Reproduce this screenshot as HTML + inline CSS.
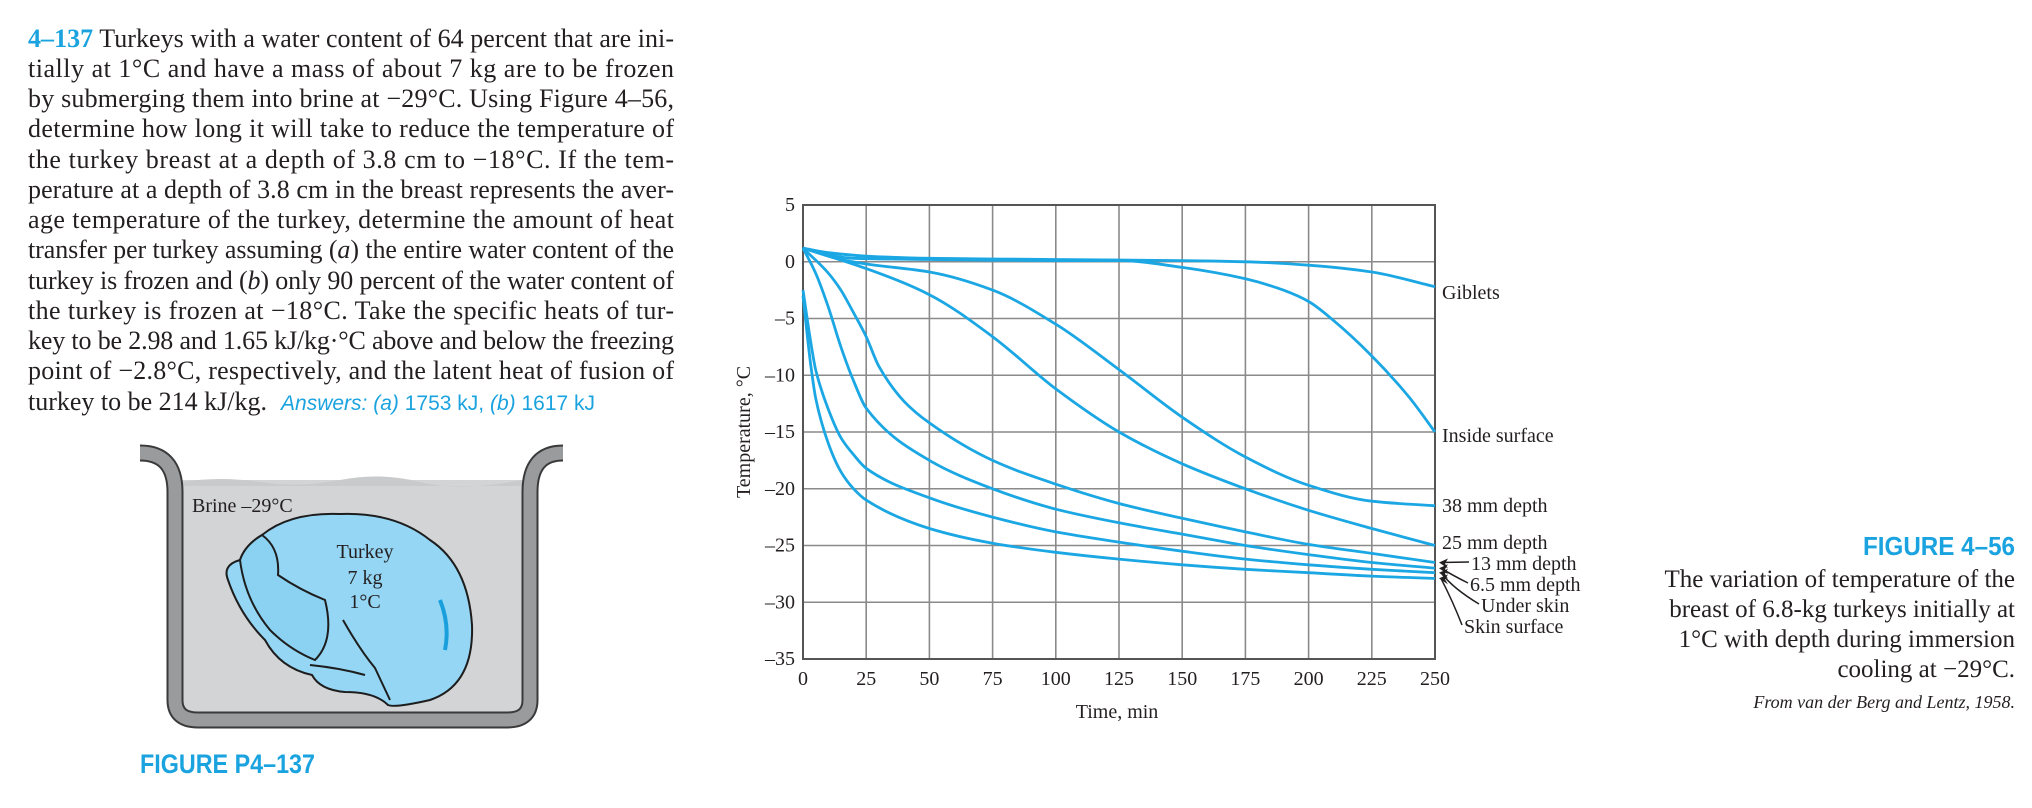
<!DOCTYPE html>
<html><head><meta charset="utf-8"><style>
html,body{margin:0;padding:0;background:#fff;}
svg{display:block;}
</style></head><body>
<svg id="page" width="2032" height="808" viewBox="0 0 2032 808" xmlns="http://www.w3.org/2000/svg">
<g font-family="Liberation Serif, serif" font-size="26" fill="#231f20">
<text x="28" y="47" textLength="646" lengthAdjust="spacing"><tspan fill="#1aa3df" font-weight="bold">4–137</tspan>  Turkeys with a water content of 64 percent that are ini-</text>
<text x="28" y="77" textLength="646" lengthAdjust="spacing">tially at 1°C and have a mass of about 7 kg are to be frozen</text>
<text x="28" y="107" textLength="646" lengthAdjust="spacing">by submerging them into brine at −29°C. Using Figure 4–56,</text>
<text x="28" y="137" textLength="646" lengthAdjust="spacing">determine how long it will take to reduce the temperature of</text>
<text x="28" y="168" textLength="646" lengthAdjust="spacing">the turkey breast at a depth of 3.8 cm to −18°C. If the tem-</text>
<text x="28" y="198" textLength="646" lengthAdjust="spacing">perature at a depth of 3.8 cm in the breast represents the aver-</text>
<text x="28" y="228" textLength="646" lengthAdjust="spacing">age temperature of the turkey, determine the amount of heat</text>
<text x="28" y="258" textLength="646" lengthAdjust="spacing">transfer per turkey assuming (<tspan font-style="italic">a</tspan>) the entire water content of the</text>
<text x="28" y="289" textLength="646" lengthAdjust="spacing">turkey is frozen and (<tspan font-style="italic">b</tspan>) only 90 percent of the water content of</text>
<text x="28" y="319" textLength="646" lengthAdjust="spacing">the turkey is frozen at −18°C. Take the specific heats of tur-</text>
<text x="28" y="349" textLength="646" lengthAdjust="spacing">key to be 2.98 and 1.65 kJ/kg·°C above and below the freezing</text>
<text x="28" y="379" textLength="646" lengthAdjust="spacing">point of −2.8°C, respectively, and the latent heat of fusion of</text>
<text x="28" y="410">turkey to be 214 kJ/kg.<tspan dx="14" font-family="Liberation Sans, sans-serif" font-size="21" fill="#1aa3df"><tspan font-style="italic">Answers: (a)</tspan> 1753 kJ, <tspan font-style="italic">(b)</tspan> 1617 kJ</tspan></text>
</g>

<g>
<rect x="182" y="480" width="340" height="233" fill="#d3d4d6"/>
<path d="M182,482 Q220,476 260,482 T340,480 T420,482 T522,480 L522,486 L182,486Z" fill="#c9cacc"/>
<path d="M140,453 Q175,453 175,492 L175,700 Q175,720 198,720 L507,720 Q530,720 530,700 L530,492 Q530,453 563,453" fill="none" stroke="#3a3a3a" stroke-width="17"/>
<path d="M140,453 Q175,453 175,492 L175,700 Q175,720 198,720 L507,720 Q530,720 530,700 L530,492 Q530,453 563,453" fill="none" stroke="#9a9b9d" stroke-width="13"/>
<text x="192" y="512" font-family="Liberation Serif, serif" font-size="20" fill="#231f20">Brine –29°C</text>
<path d="M262,535 Q290,512 340,514 Q395,512 430,540 Q468,565 472,625 Q474,685 430,700 Q395,708 388,705 Q375,692 345,692 Q320,690 312,675 Q280,668 265,640 Q240,615 228,580 Q222,565 240,560 Q245,545 262,535Z" fill="#94d6f4" stroke="#1d1d1d" stroke-width="2"/>
<path d="M262,535 Q280,548 278,575 Q300,590 325,600 Q335,640 315,660 Q290,650 270,630 Q245,600 240,560 Q245,545 262,535Z" fill="#8ad1f2" stroke="#1d1d1d" stroke-width="2"/>
<path d="M343,620 Q360,650 375,668 L390,700 M310,665 Q340,668 365,675" fill="none" stroke="#1d1d1d" stroke-width="2"/>
<path d="M440,600 Q450,625 445,650" fill="none" stroke="#19a0dc" stroke-width="4"/>
<g font-family="Liberation Serif, serif" font-size="20" fill="#231f20" text-anchor="middle">
<text x="365" y="558">Turkey</text>
<text x="365" y="584">7 kg</text>
<text x="365" y="608">1°C</text>
</g>
<text x="140" y="773" textLength="175" lengthAdjust="spacingAndGlyphs" font-family="Liberation Sans, sans-serif" font-weight="bold" font-size="27" fill="#1aa3df">FIGURE P4–137</text>
</g>

<g id="chart"></g>

<g font-family="Liberation Serif, serif" fill="#231f20" text-anchor="end">
<text x="2015" y="555" textLength="152" lengthAdjust="spacingAndGlyphs" font-family="Liberation Sans, sans-serif" font-weight="bold" font-size="26" fill="#1aa3df">FIGURE 4–56</text>
<text x="2015" y="587" font-size="25">The variation of temperature of the</text>
<text x="2015" y="617" font-size="25">breast of 6.8-kg turkeys initially at</text>
<text x="2015" y="647" font-size="25">1°C with depth during immersion</text>
<text x="2015" y="677" font-size="25">cooling at −29°C.</text>
<text x="2015" y="708" font-size="18" font-style="italic">From van der Berg and Lentz, 1958.</text>
</g>
</svg>
<script>
const xTicks=[0,25,50,75,100,125,150,175,200,225,250];
const yTicks=[5,0,-5,-10,-15,-20,-25,-30,-35];
const yTickLabels=["5","0","–5","–10","–15","–20","–25","–30","–35"];
const seriesNames=["Giblets","Inside surface","38 mm depth","25 mm depth","13 mm depth","6.5 mm depth","Under skin","Skin surface"];
const tGiblets=[0,10,25,50,100,150,175,200,225,250];
const vGiblets=[1.2,0.8,0.5,0.3,0.2,0.1,0,-0.3,-0.9,-2.2];
const tInside=[0,10,20,50,100,125,150,175,190,200,210,225,240,250];
const vInside=[1.2,0.6,0.3,0.2,0.1,0.1,-0.5,-1.5,-2.5,-3.5,-5.2,-8.3,-12,-15];
const t38=[0,15,25,50,75,100,125,150,175,200,225,250];
const v38=[1.2,0.2,-0.2,-0.9,-2.5,-5.5,-9.5,-13.7,-17.2,-19.7,-21.1,-21.5];
const t25=[0,25,50,75,100,125,150,175,200,225,250];
const v25=[1.2,-0.6,-2.9,-6.6,-11.2,-15,-17.8,-20,-21.9,-23.5,-25];
const t13=[0,10,15,20,25,30,40,50,75,100,125,150,175,200,225,250];
const v13=[1.2,-1,-2.5,-4.5,-6.6,-9.2,-12.3,-14.2,-17.5,-19.6,-21.3,-22.6,-23.8,-24.9,-25.7,-26.5];
const t65=[0,5,10,15,20,25,50,75,100,125,150,175,200,225,250];
const v65=[1.2,-1,-4,-7.5,-10.5,-12.9,-17.5,-20,-21.8,-23,-24,-25,-25.8,-26.5,-27];
const tUnder=[0,3,5,10,15,20,25,50,75,100,125,150,175,200,225,250];
const vUnder=[-2.5,-7,-9.5,-13,-15.5,-17,-18.2,-20.8,-22.5,-23.8,-24.7,-25.5,-26.2,-26.7,-27.1,-27.4];
const tSkin=[0,3,5,10,15,20,25,50,75,100,125,150,175,200,225,250];
const vSkin=[-3,-9,-12,-16,-18.5,-20,-21,-23.5,-24.8,-25.6,-26.2,-26.7,-27.1,-27.4,-27.7,-27.9];

const NS="http://www.w3.org/2000/svg";
const X0=803,X1=1435,Y0=205,Y1=659,XMIN=0,XMAX=250,YMIN=-35,YMAX=5;
function xs(t){return X0+(t-XMIN)/(XMAX-XMIN)*(X1-X0);}
function ys(v){return Y0+(YMAX-v)/(YMAX-YMIN)*(Y1-Y0);}
const chart=document.getElementById('chart');
function mk(tag,attrs,parent){const e=document.createElementNS(NS,tag);for(const k in attrs)e.setAttribute(k,attrs[k]);(parent||chart).appendChild(e);return e;}

const grid=mk('g',{});


xTicks.forEach(t=>{const l=mk('line',{x1:xs(t),x2:xs(t),y1:Y0,y2:Y1,stroke:'#8a8a8a','stroke-width':1.6},grid);

});
yTicks.forEach(v=>{const l=mk('line',{x1:X0,x2:X1,y1:ys(v),y2:ys(v),stroke:'#8a8a8a','stroke-width':1.6},grid);

});
const frame=mk('rect',{x:X0,y:Y0,width:X1-X0,height:Y1-Y0,fill:'none',stroke:'#555','stroke-width':2});



const xl=mk('g',{'font-family':'Liberation Serif, serif','font-size':20,fill:'#231f20','text-anchor':'middle'});


xTicks.forEach(t=>{const e=mk('text',{x:xs(t),y:685},xl);e.textContent=String(t);

});
const yl=mk('g',{'font-family':'Liberation Serif, serif','font-size':20,fill:'#231f20','text-anchor':'end'});


yTicks.forEach((v,i)=>{const e=mk('text',{x:795,y:ys(v)+6},yl);e.textContent=yTickLabels[i];

});
const xt=mk('text',{x:1117,y:718,'font-family':'Liberation Serif, serif','font-size':20,fill:'#231f20','text-anchor':'middle'});
xt.textContent='Time, min';


const yt=mk('text',{x:0,y:0,transform:'translate(750,432) rotate(-90)','font-family':'Liberation Serif, serif','font-size':20,fill:'#231f20','text-anchor':'middle'});
yt.textContent='Temperature, °C';



function pathFrom(ts,vs){
  const px=ts.map(xs),py=vs.map(ys),n=px.length;
  const d=[],m=new Array(n);
  for(let i=0;i<n-1;i++)d.push((py[i+1]-py[i])/(px[i+1]-px[i]));
  m[0]=d[0];m[n-1]=d[n-2];
  for(let i=1;i<n-1;i++){ if(d[i-1]*d[i]<=0)m[i]=0; else {const h0=px[i]-px[i-1],h1=px[i+1]-px[i];const w1=2*h1+h0,w2=h1+2*h0;m[i]=(w1+w2)/(w1/d[i-1]+w2/d[i]);}}
  let s='M'+px[0].toFixed(1)+','+py[0].toFixed(1);
  for(let i=0;i<n-1;i++){const h=(px[i+1]-px[i])/3;
    s+=' C'+(px[i]+h).toFixed(1)+','+(py[i]+m[i]*h).toFixed(1)+' '+(px[i+1]-h).toFixed(1)+','+(py[i+1]-m[i+1]*h).toFixed(1)+' '+px[i+1].toFixed(1)+','+py[i+1].toFixed(1);}
  return s;}
const allT=[tGiblets,tInside,t38,t25,t13,t65,tUnder,tSkin];
const allV=[vGiblets,vInside,v38,v25,v13,v65,vUnder,vSkin];
const curveNames=['curve-giblets','curve-inside-surface','curve-38mm','curve-25mm','curve-13mm','curve-6-5mm','curve-under-skin','curve-skin-surface'];
allT.forEach((ts,i)=>{const e=mk('path',{d:pathFrom(ts,allV[i]),fill:'none',stroke:'#1ba7e3','stroke-width':2.8,'stroke-linejoin':'round'});

});

const labelPos=[[1442,299],[1442,442],[1442,512],[1442,549],[1471,570],[1470,591],[1481,612],[1464,633]];
const lg=mk('g',{'font-family':'Liberation Serif, serif','font-size':20,fill:'#231f20'});


seriesNames.forEach((n,i)=>{const e=mk('text',{x:labelPos[i][0],y:labelPos[i][1]},lg);e.textContent=n;

});
const ag=mk('g',{fill:'none',stroke:'#231f20','stroke-width':1.5});


[4,5,6,7].forEach(i=>{const ex=1439,ey=ys(allV[i][allV[i].length-1]);const sx=labelPos[i][0]-2,sy=labelPos[i][1]-8;
const e=mk('path',{d:`M${sx},${sy} Q${ex+14},${(sy+ey)/2} ${ex+2},${ey}`},ag);


const h=mk('path',{d:`M${ex},${ey} l9,-4 l-3,5 l3,5z`,fill:'#231f20',stroke:'none'},ag);

});
</script>
</body></html>
